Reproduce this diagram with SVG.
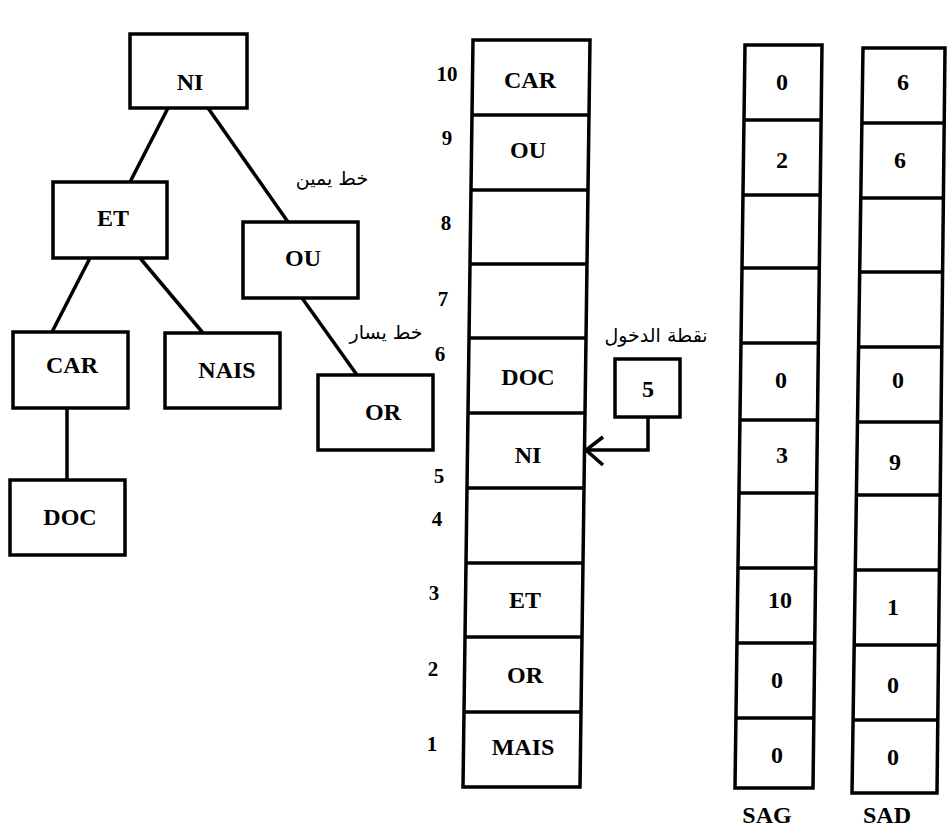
<svg xmlns="http://www.w3.org/2000/svg" width="948" height="833" viewBox="0 0 948 833">
<style>
.box{fill:#fff;stroke:#000;stroke-width:3.5;stroke-linejoin:miter}
.ln{fill:none;stroke:#000;stroke-width:3.5}
.div{stroke:#000;stroke-width:3.5}
.t{font-family:'Liberation Serif','Times New Roman',serif;font-weight:bold;font-size:24px;fill:#000;text-anchor:middle}
.idx{font-family:'Liberation Serif','Times New Roman',serif;font-weight:bold;font-size:21px;fill:#000;text-anchor:middle}
.ar{font-family:'DejaVu Sans','Noto Sans',sans-serif;font-size:19px;fill:#000;text-anchor:middle;direction:rtl}
</style>
<rect width="948" height="833" fill="#fff"/>

<g id="tree-connectors">
<line class="ln" x1="168" y1="108" x2="130" y2="182"/>
<line class="ln" x1="208" y1="108" x2="288" y2="222"/>
<line class="ln" x1="90" y1="258" x2="52" y2="332"/>
<line class="ln" x1="140" y1="258" x2="203" y2="333"/>
<line class="ln" x1="302" y1="298" x2="357" y2="375"/>
<line class="ln" x1="67" y1="408" x2="67" y2="480"/>
</g>

<g id="node-NI"><rect class="box" x="130" y="34" width="117" height="74"/><text class="t" x="190" y="90">NI</text></g>
<g id="node-ET"><rect class="box" x="53" y="182" width="114" height="76"/><text class="t" x="113" y="226">ET</text></g>
<g id="node-OU"><rect class="box" x="243" y="222" width="115" height="76"/><text class="t" x="303" y="266">OU</text></g>
<g id="node-CAR"><rect class="box" x="13" y="332" width="115" height="76"/><text class="t" x="72" y="373">CAR</text></g>
<g id="node-NAIS"><rect class="box" x="165" y="333" width="115" height="75"/><text class="t" x="227" y="378">NAIS</text></g>
<g id="node-OR"><rect class="box" x="318" y="375" width="115" height="75"/><text class="t" x="383" y="420">OR</text></g>
<g id="node-DOC"><rect class="box" x="10" y="480" width="115" height="75"/><text class="t" x="70" y="525">DOC</text></g>

<g id="edge-labels">
<text class="ar" x="332" y="185">خط يمين</text>
<text class="ar" x="386" y="339">خط يسار</text>
</g>

<g id="indices">
<text class="idx" x="447" y="81">10</text>
<text class="idx" x="447" y="145">9</text>
<text class="idx" x="446" y="230">8</text>
<text class="idx" x="443" y="306">7</text>
<text class="idx" x="440" y="361">6</text>
<text class="idx" x="439" y="483">5</text>
<text class="idx" x="437" y="526">4</text>
<text class="idx" x="434" y="600">3</text>
<text class="idx" x="433" y="676">2</text>
<text class="idx" x="432" y="751">1</text>
</g>

<g id="table-main">
<polygon class="box" points="473,40 590,40 580,787 463,787"/>
<line class="div" x1="472" y1="115" x2="589" y2="115"/>
<line class="div" x1="471" y1="190" x2="588" y2="190"/>
<line class="div" x1="470" y1="264" x2="587" y2="264"/>
<line class="div" x1="469" y1="338" x2="586" y2="338"/>
<line class="div" x1="468" y1="413" x2="585" y2="413"/>
<line class="div" x1="467" y1="488" x2="584" y2="488"/>
<line class="div" x1="466" y1="563" x2="583" y2="563"/>
<line class="div" x1="465" y1="637" x2="582" y2="637"/>
<line class="div" x1="464" y1="712" x2="581" y2="712"/>
<text class="t" x="530" y="88">CAR</text>
<text class="t" x="528" y="158">OU</text>
<text class="t" x="528" y="385">DOC</text>
<text class="t" x="528" y="463">NI</text>
<text class="t" x="525" y="608">ET</text>
<text class="t" x="525" y="683">OR</text>
<text class="t" x="523" y="755">MAIS</text>
</g>

<g id="table-SAG">
<polygon class="box" points="745,45 822,45 813,788 735,788"/>
<line class="div" x1="744" y1="120" x2="821" y2="120"/>
<line class="div" x1="743" y1="195" x2="820" y2="195"/>
<line class="div" x1="742" y1="268" x2="819" y2="268"/>
<line class="div" x1="741" y1="343" x2="818" y2="343"/>
<line class="div" x1="740" y1="420" x2="817" y2="420"/>
<line class="div" x1="739" y1="493" x2="817" y2="493"/>
<line class="div" x1="738" y1="568" x2="816" y2="568"/>
<line class="div" x1="737" y1="643" x2="815" y2="643"/>
<line class="div" x1="736" y1="718" x2="814" y2="718"/>
<text class="t" x="782" y="90">0</text>
<text class="t" x="782" y="168">2</text>
<text class="t" x="781" y="388">0</text>
<text class="t" x="782" y="463">3</text>
<text class="t" x="780" y="608">10</text>
<text class="t" x="777" y="688">0</text>
<text class="t" x="777" y="763">0</text>
<text class="t" x="767" y="823">SAG</text>
</g>

<g id="table-SAD">
<polygon class="box" points="863,48 945,48 937,793 852,793"/>
<line class="div" x1="862" y1="123" x2="944" y2="123"/>
<line class="div" x1="861" y1="198" x2="943" y2="198"/>
<line class="div" x1="860" y1="272" x2="943" y2="272"/>
<line class="div" x1="859" y1="347" x2="942" y2="347"/>
<line class="div" x1="857" y1="422" x2="941" y2="422"/>
<line class="div" x1="856" y1="495" x2="940" y2="495"/>
<line class="div" x1="855" y1="570" x2="939" y2="570"/>
<line class="div" x1="854" y1="645" x2="938" y2="645"/>
<line class="div" x1="853" y1="720" x2="938" y2="720"/>
<text class="t" x="903" y="90">6</text>
<text class="t" x="900" y="168">6</text>
<text class="t" x="898" y="388">0</text>
<text class="t" x="895" y="470">9</text>
<text class="t" x="893" y="615">1</text>
<text class="t" x="893" y="693">0</text>
<text class="t" x="893" y="765">0</text>
<text class="t" x="887" y="823">SAD</text>
</g>

<g id="entry-point">
<text class="ar" x="656" y="342">نقطة الدخول</text>
<rect class="box" x="615" y="359" width="65" height="58"/>
<text class="t" x="648" y="397">5</text>
</g>

<g id="entry-connector">
<polyline class="ln" points="648,417 648,450 586,450"/>
<polyline class="ln" points="603,437 586,450 603,465"/>
</g>
</svg>
